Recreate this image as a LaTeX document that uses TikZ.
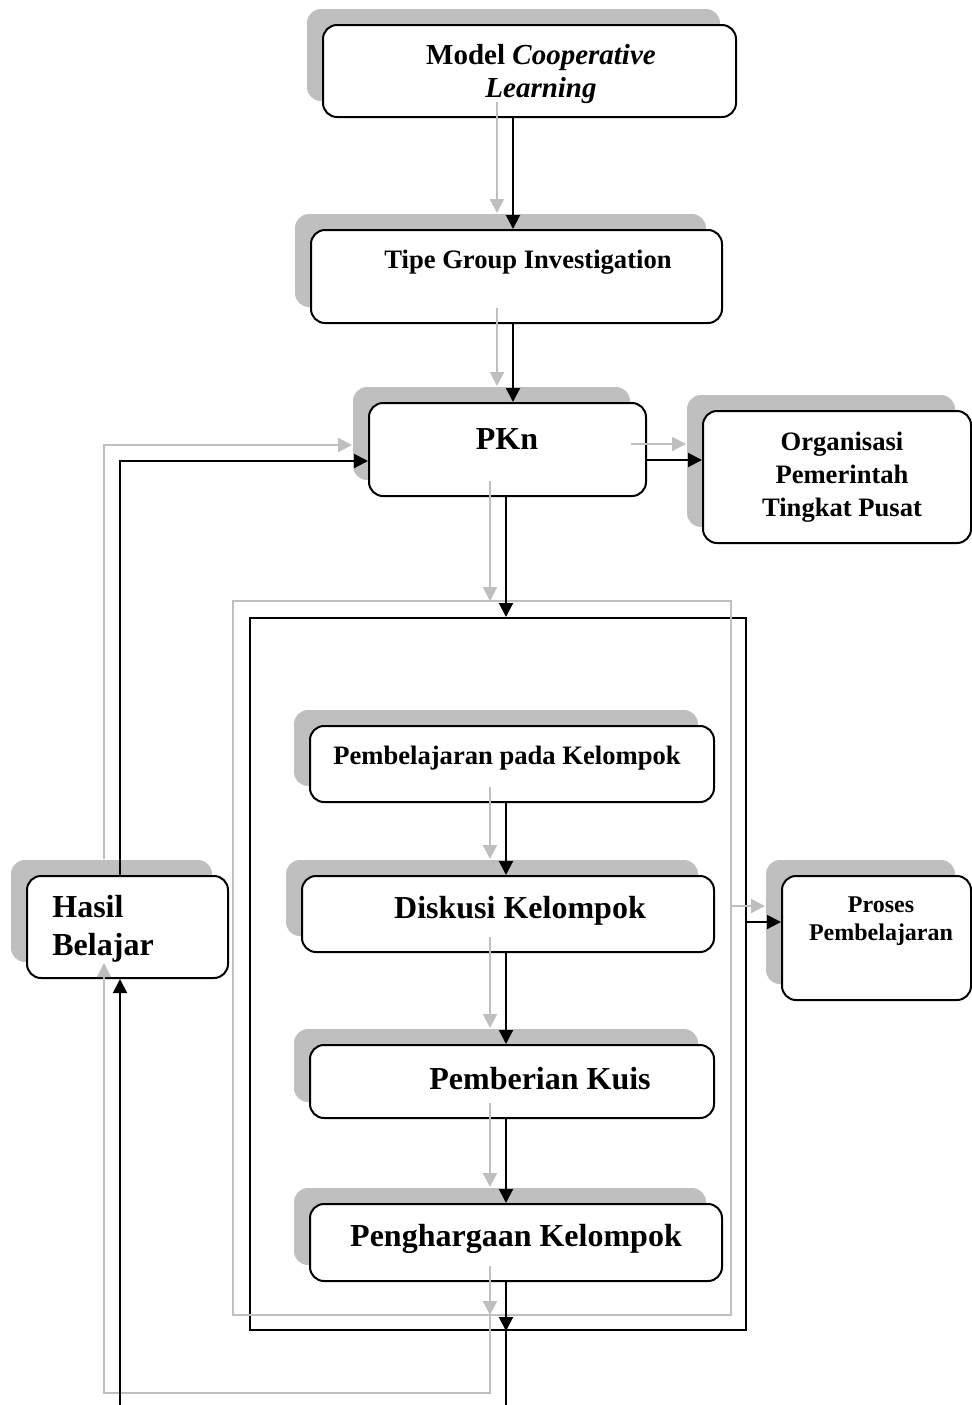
\documentclass[tikz,border=0pt]{standalone}
\usepackage{fontspec}
\setmainfont{Liberation Serif}
\usetikzlibrary{arrows.meta,fit}
\definecolor{shade}{HTML}{BFBFBF}
\tikzset{
  boxn/.style={draw=black, fill=white, line width=1pt, rounded corners=7pt, inner sep=0pt},
  shadowbox/.style={fill=shade, rounded corners=7pt},
  lbl/.style={inner sep=0pt, align=center, font=\bfseries},
  arr/.style={line width=1pt, -{Triangle[length=7pt,width=7pt]}},
  ln/.style={line width=1pt},
}
\newcommand\mkbox[5]{%
  \fill[shadowbox] (#2-16,#3-16) rectangle (#4-16,#5-16);
  \node[boxn, fit={(#2,#3) (#4,#5)}] (#1) {};}
\newcommand\myconnectors{%
  \draw[arr] (m1.south -| xa) -- (m2.north -| xa);
  \draw[arr] (m2.south -| xa) -- (pkn.north -| xa);
  \draw[arr] (pkn.east |- yb) -- (org.west |- yb);
  \draw[arr] (pkn.south -| xb) -- (frame.north -| xb);
  \draw[arr] (pbk.south -| xb) -- (disk.north -| xb);
  \draw[arr] (disk.south -| xb) -- (kuis.north -| xb);
  \draw[arr] (kuis.south -| xb) -- (pengh.north -| xb);
  \draw[arr] (pengh.south -| xb) -- (frame.south -| xb);
  \draw[arr] (frame.east |- yc) -- (proses.west |- yc);
  \draw[arr] (frame.south -| xb) -- (xb |- bl) -- (xh |- bl) -- (hasil.south -| xh);
  \draw[arr] (hasil.north -| xh) -- (xh |- ya) -- (pkn.west |- ya);
}
\begin{document}
\begin{tikzpicture}[x=0.5pt,y=-0.5pt]
\useasboundingbox (0,0) rectangle (972,1405);
\clip (0,0) rectangle (972,1405);
\fill[white] (0,0) rectangle (972,1405);
% helper coordinates
\coordinate (xa) at (513,0);
\coordinate (xb) at (506,0);
\coordinate (xh) at (120,0);
\coordinate (ya) at (0,461);
\coordinate (yb) at (0,460);
\coordinate (yc) at (0,922);
\coordinate (bl) at (0,1409);
% boxes
\mkbox{m1}{323}{25}{736}{117}
\mkbox{m2}{311}{230}{722}{323}
\mkbox{pkn}{369}{403}{646}{496}
\mkbox{org}{703}{411}{971}{543}
\mkbox{pbk}{310}{726}{714}{802}
\mkbox{disk}{302}{876}{714}{952}
\mkbox{proses}{782}{876}{971}{1000}
\mkbox{kuis}{310}{1045}{714}{1118}
\mkbox{pengh}{310}{1204}{722}{1281}
\mkbox{hasil}{27}{876}{228}{978}
\node[draw=black, line width=1pt, inner sep=0pt, fit={(250,618) (746,1330)}] (frame) {};
% ghost (shadow) connectors
\begin{scope}[transform canvas={xshift=-8pt,yshift=8pt}, color=shade]
  \draw[ln] (frame.north west) rectangle (frame.south east);
  \myconnectors
\end{scope}
% connectors
\begin{scope}[color=black]
  \myconnectors
\end{scope}
% texts
\node[lbl, font=\fontsize{14.5}{16.5}\selectfont\bfseries] (t1) at (541,74) {Model \textit{Cooperative}\\\textit{Learning}};
\node[lbl, font=\fontsize{13.3}{16}\selectfont\bfseries] (t2) at (528,262) {Tipe Group Investigation};
\node[lbl, font=\fontsize{16}{19}\selectfont\bfseries] (t3) at (507,439) {PKn};
\node[lbl, font=\fontsize{13.3}{16.5}\selectfont\bfseries] (t4) at (842,477) {Organisasi\\Pemerintah\\Tingkat Pusat};
\node[lbl, font=\fontsize{13.3}{16}\selectfont\bfseries] (t5) at (507,758) {Pembelajaran pada Kelompok};
\node[lbl, font=\fontsize{16}{19}\selectfont\bfseries] (t6) at (520,911) {Diskusi Kelompok};
\node[lbl, font=\fontsize{12}{14}\selectfont\bfseries] (t7) at (881,921) {Proses\\Pembelajaran};
\node[lbl, font=\fontsize{16}{19}\selectfont\bfseries] (t8) at (540,1079) {Pemberian Kuis};
\node[lbl, font=\fontsize{16}{19}\selectfont\bfseries] (t9) at (516,1239) {Penghargaan Kelompok};
\node[lbl, align=left, anchor=west, font=\fontsize{16}{19}\selectfont\bfseries] (t10) at (52,929) {Hasil\\Belajar};
\end{tikzpicture}
\end{document}
